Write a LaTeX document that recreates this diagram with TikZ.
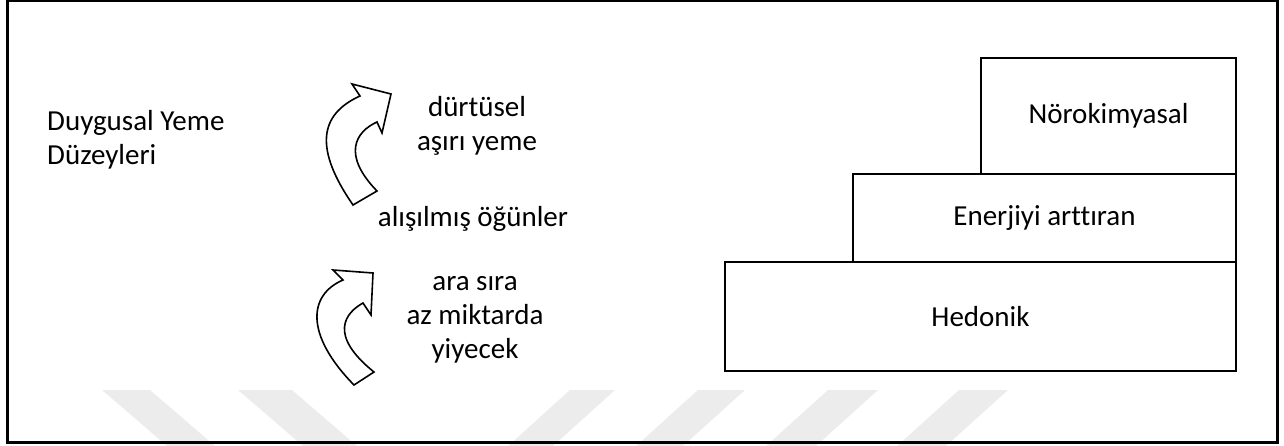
\documentclass[tikz,border=0pt]{standalone}
\usepackage{fontspec}
\setmainfont{Carlito}[Ligatures=NoCommon]
\usepackage{pgf,tikz}
\usetikzlibrary{arrows}
\usetikzlibrary{positioning}
\definecolor{vesikuva}{RGB}{236,236,236}

\begin{document}
\begin{tikzpicture}[line cap=round,line join=round,x=1pt,y=-1pt,
  kutu/.style={draw,line width=2.5pt,line cap=rect,line join=miter,inner sep=0pt,outer sep=0pt,font=\fontsize{29}{34}\selectfont},
  metin/.style={align=center,inner sep=0pt,font=\fontsize{29}{34}\selectfont},
  ok/.style={draw,fill=white,line width=1.6pt,line join=miter}]
\useasboundingbox (0,0) rectangle (1284,446);

%filigran
\foreach \a/\b in {102/150,238/292}
{\fill[vesikuva] (\a,390) -- (\b,390) -- (\b+65,446) -- (\a+65,446) -- cycle;}
\foreach \a/\b in {570/615,698/745,828/878,959/1008}
{\fill[vesikuva] (\a,390) -- (\b,390) -- (\b-62,446) -- (\a-62,446) -- cycle;}

%cerceve
\draw[line width=3pt,line cap=rect,line join=miter] (7,1) rectangle (1277,442);

%basamaklar
\node[kutu,minimum width=511pt,minimum height=109pt] (hedonik) at (980.5,316.5) {Hedonik};
\node[kutu,minimum width=383pt,minimum height=88pt,anchor=south east] (enerji) at (hedonik.north east) {Enerjiyi arttıran};
\node[kutu,minimum width=255pt,minimum height=116pt,anchor=south east] (noro) at (enerji.north east) {Nörokimyasal};

%metinler
\node[metin,anchor=west,align=left] (baslik) at (47,140) {Duygusal Yeme\\Düzeyleri};
\node[metin] (durtusel) at (477,126) {dürtüsel\\aşırı yeme};
\node[metin] (aliskanlik) at (473,219) {alışılmış öğünler};
\node[metin] (arasira) at (475,320) {ara sıra\\az miktarda\\yiyecek};

%oklar
\draw[ok] (353,205) .. controls (315,150) and (318,115) .. (360,96) -- (352,84) -- (391,94) -- (382,133) -- (377,122)
  .. controls (355,132) and (342,155) .. (377,191) -- cycle;
\draw[ok] (354,385) .. controls (305,335) and (308,295) .. (343,280) -- (333,270) -- (373,273) -- (371,315) -- (363,303)
  .. controls (345,313) and (328,335) .. (374,372) -- cycle;
\end{tikzpicture}
\end{document}
